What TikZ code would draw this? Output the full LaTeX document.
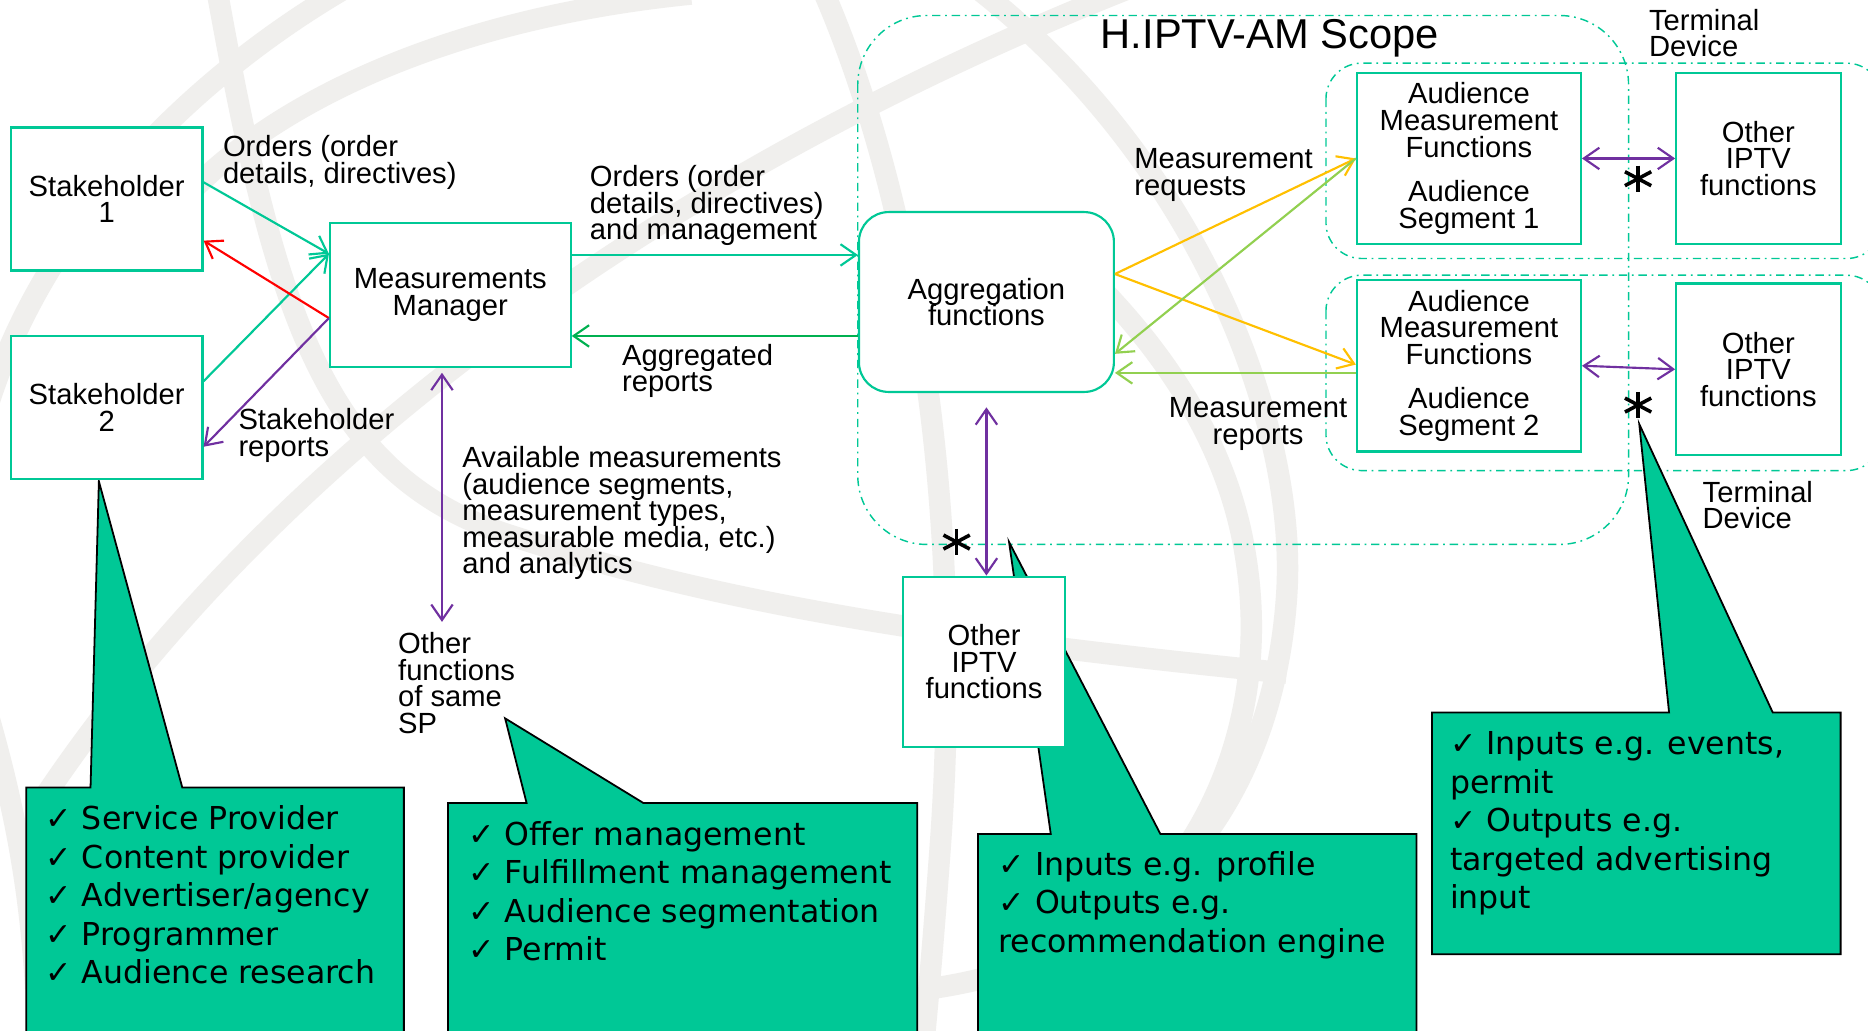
\documentclass[tikz,border=0pt]{standalone}
\usepackage{fontspec}
\setmainfont{Liberation Sans}
\newfontfamily\callfont{DejaVu Sans}
\usetikzlibrary{arrows.meta}

\definecolor{amteal}{RGB}{0,200,150}
\definecolor{amgreen}{RGB}{0,176,80}
\definecolor{amred}{RGB}{255,0,0}
\definecolor{ampurple}{RGB}{112,48,160}
\definecolor{amorange}{RGB}{255,192,0}
\definecolor{amlime}{RGB}{146,208,80}
\definecolor{calloutfill}{RGB}{0,200,150}
\definecolor{watermark}{RGB}{240,239,237}

\newcommand\labfont{\fontsize{24.5}{22.3}\selectfont\lineskiplimit=-50pt\relax}
\newcommand\titlefont{\fontsize{35}{36}\selectfont}
\newcommand\callsize{\callfont\fontsize{26.5}{32.3}\selectfont\lineskiplimit=-50pt\relax}

\begin{document}
\begin{tikzpicture}[x=1pt,y=-1pt,
  box/.style={draw=amteal, line width=1.8pt, fill=white, inner sep=0pt, align=center, font=\labfont},
  lab/.style={inner sep=0pt, align=left, font=\labfont, anchor=base west},
  calltext/.style={inner sep=0pt, align=left, font=\callsize, anchor=base west},
  callout/.style={fill=calloutfill, draw=black, line width=1.5pt, line join=miter},
  dashdot/.style={draw=amteal, line width=1.2pt, dash pattern=on 7pt off 4pt on 1.5pt off 4pt},
  barb/.tip={Straight Barb[length=13pt,width=18pt]},
  conn/.style={line width=1.8pt, -{barb}},
  dconn/.style={line width=1.8pt, {barb}-{barb}},
  wm/.style={draw=watermark, line width=18pt},
  astline/.style={line width=3pt, draw=black}
]
\useasboundingbox (0,0) rectangle (1568,865);
\clip (0,0) rectangle (1568,865);
\fill[white] (0,0) rectangle (1568,865);

% faint globe watermark
\draw[wm] (290,-10) .. controls (170,60) and (40,180) .. (-10,340);
\draw[wm] (120,215) .. controls (170,120) and (330,20) .. (580,-5);
\draw[wm] (30,680) .. controls (200,420) and (520,150) .. (1000,-30);
\draw[wm] (180,-20) .. controls (230,260) and (270,400) .. (430,450)
               .. controls (600,505) and (780,535) .. (1080,565);
\draw[wm] (690,-10) .. controls (760,150) and (810,400) .. (790,700)
               .. controls (785,770) and (780,830) .. (775,880);
\draw[wm] (820,-10) .. controls (1000,130) and (1090,350) .. (1080,500)
               .. controls (1070,650) and (990,800) .. (780,830);
\draw[wm] (880,200) .. controls (960,270) and (1030,360) .. (1046,470)
               .. controls (1060,560) and (1040,650) .. (990,720);
\draw[wm] (-10,600) .. controls (10,670) and (25,740) .. (30,830);

% scope and terminal device outlines
\draw[dashdot, rounded corners=58pt] (720,13) rectangle (1367,457);
\draw[dashdot, rounded corners=30pt] (1113,53) rectangle (1580,217);
\draw[dashdot, rounded corners=30pt] (1113,231) rectangle (1580,395);

% callouts
\draw[callout] (22,661) -- (76,661) -- (83,404) -- (153,661) -- (339,661) -- (339,880) -- (22,880) -- cycle;
\draw[callout] (376,674) -- (442,674) -- (424,603) -- (540,674) -- (770,674) -- (770,880) -- (376,880) -- cycle;
\draw[callout] (821,700) -- (882,700) -- (847,455) -- (974,700) -- (1189,700) -- (1189,880) -- (821,880) -- cycle;
\draw[callout] (1202,598) -- (1401,598) -- (1376,356) -- (1488,598) -- (1545,598) -- (1545,801) -- (1202,801) -- cycle;

% callout texts (anchored at the baseline of their last line)
\node[calltext] (c1) at (38,825.7) {✓ Service Provider\\✓ Content provider\\✓ Advertiser/agency\\✓ Programmer\\✓ Audience research};
\node[calltext] (c2) at (393,806.4) {✓ Offer management\\✓ Fulfillment management\\✓ Audience segmentation\\✓ Permit};
\node[calltext] (c3) at (838,799.1) {✓ Inputs e.g. profile\\✓ Outputs e.g.\\recommendation engine};
\node[calltext] (c4) at (1217,762.7) {✓ Inputs e.g. events,\\permit\\✓ Outputs e.g.\\targeted advertising\\input};

% functional blocks
\node[box, minimum width=161pt, minimum height=120pt] (s1) at (89.5,167) {Stakeholder\\1};
\node[box, minimum width=161pt, minimum height=120pt] (s2) at (89.5,342) {Stakeholder\\2};
\node[box, minimum width=202pt, minimum height=121pt] (mm) at (378,247.5) {Measurements\\Manager};
\node[box, rounded corners=25pt, minimum width=214pt, minimum height=151pt] (agg) at (828,253.5) {Aggregation\\functions};
\node[box, minimum width=188pt, minimum height=144pt] (amf1) at (1233,133) {Audience\\Measurement\\Functions\\[15pt]Audience\\Segment 1};
\node[box, minimum width=188pt, minimum height=144pt] (amf2) at (1233,307) {Audience\\Measurement\\Functions\\[15pt]Audience\\Segment 2};
\node[box, minimum width=138pt, minimum height=144pt] (oi1) at (1476,133) {Other\\IPTV\\functions};
\node[box, minimum width=138pt, minimum height=144pt] (oi2) at (1476,310) {Other\\IPTV\\functions};
\node[box, minimum width=136pt, minimum height=143pt] (oib) at (826,555.5) {Other\\IPTV\\functions};

% connectors
\draw[conn, amteal] ([yshift=14pt]s1.east) -- ([yshift=34.5pt]mm.west);
\draw[conn, amteal] ([yshift=22pt]s2.east) -- ([yshift=34.5pt]mm.west);
\draw[conn, amred] ([yshift=-19.5pt]mm.west) -- ([yshift=-35pt]s1.east);
\draw[conn, ampurple] ([yshift=-19.5pt]mm.west) -- ([yshift=-33pt]s2.east);
\draw[conn, amteal] ([yshift=33.5pt]mm.east) -- ([yshift=39.5pt]agg.west);
\draw[conn, amgreen] ([yshift=-28.5pt]agg.west) -- ([yshift=-34.5pt]mm.east);
\coordinate (osp) at (371,522);
\draw[dconn, ampurple, shorten <=4pt] ([xshift=-7pt]mm.south) -- (osp);
\draw[dconn, ampurple, shorten <=12pt] (agg.south) -- (agg.south |- oib.north);
\draw[conn, amorange] ([yshift=23.5pt]agg.east) -- (amf1.west);
\draw[conn, amorange] ([yshift=23.5pt]agg.east) -- ([yshift=1pt]amf2.west);
\draw[conn, amlime] (amf1.west) -- ([yshift=-43.5pt]agg.east);
\draw[conn, amlime] ([yshift=-6pt]amf2.west) -- ([yshift=-59.5pt]agg.east);
\draw[dconn, ampurple] (amf1.east) -- (oi1.west);
\draw[dconn, ampurple] (amf2.east) -- (oi2.west);

% reference-point asterisks
\foreach \c in {(1375,150),(1375,340),(803,455)}{
  \draw[astline] \c ++(0,-11) -- ++(0,22);
  \draw[astline] \c ++(28:12.5pt) -- ++(208:25pt);
  \draw[astline] \c ++(152:12.5pt) -- ++(-28:25pt);
}

% labels (anchored at the baseline of their last line)
\node[lab] (ord1) at (187,153.8) {Orders (order\\details, directives)};
\node[lab] (ord2) at (495,201.1) {Orders (order\\details, directives)\\and management};
\node[lab] (aggrep) at (522,328.8) {Aggregated\\reports};
\node[lab] (shrep) at (200,382.8) {Stakeholder\\reports};
\node[lab] (avail) at (388,481.7) {Available measurements\\(audience segments,\\measurement types,\\measurable media, etc.)\\and analytics};
\node[lab] (otherf) at (334,615.4) {Other\\functions\\of same\\SP};
\node[lab] (mreq) at (952,163.8) {Measurement\\requests};
\node[lab, anchor=base, align=center] (mrep) at (1056,372.8) {Measurement\\reports};
\node[lab] (td1) at (1384,47.8) {Terminal\\Device};
\node[lab] (td2) at (1429,443.8) {Terminal\\Device};
\node[inner sep=0pt, font=\titlefont, anchor=base] (title) at (1066,40.5) {H.IPTV-AM Scope};
\end{tikzpicture}
\end{document}
